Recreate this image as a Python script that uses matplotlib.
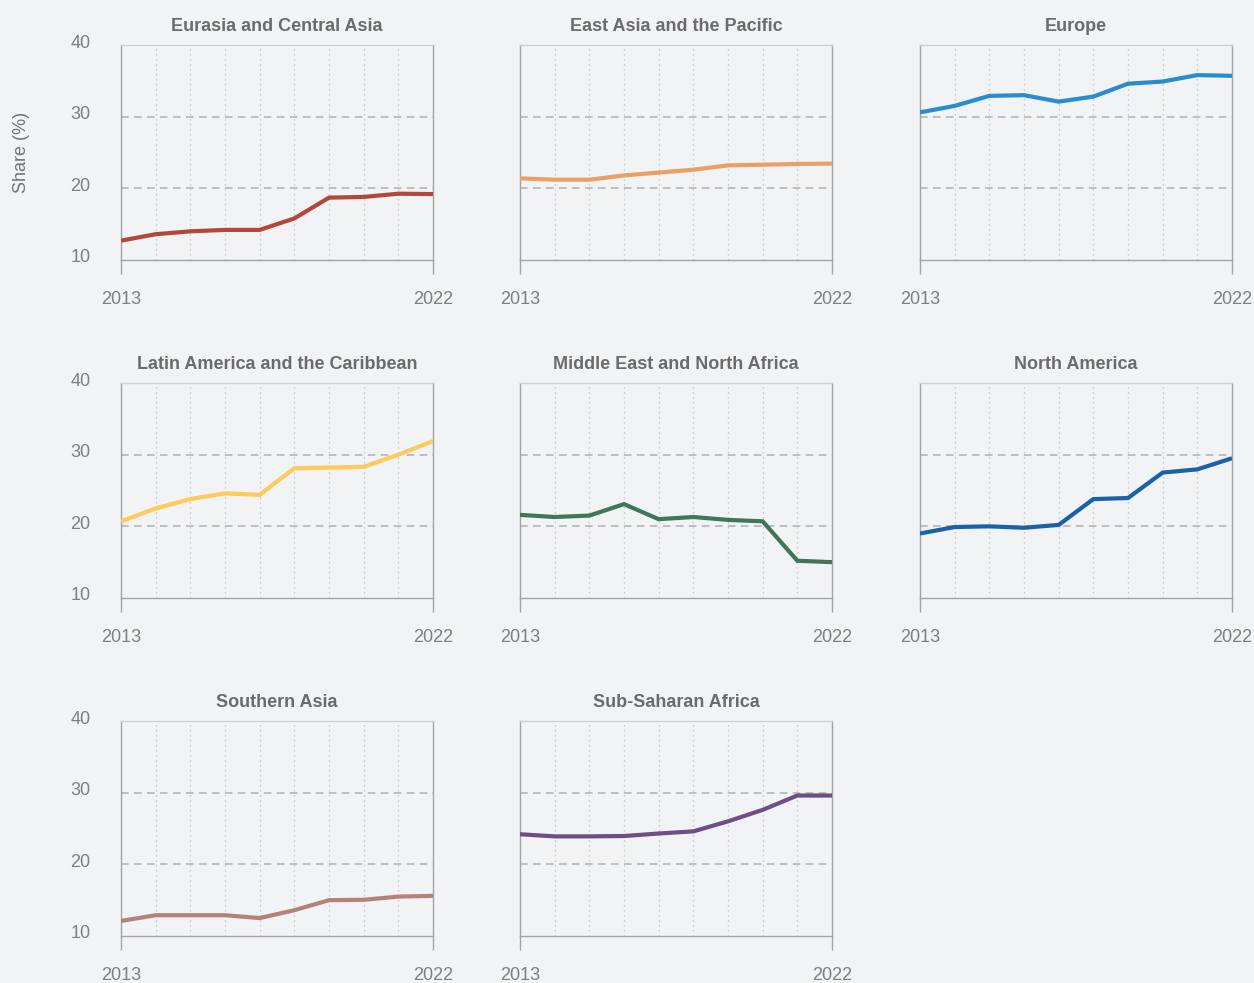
import matplotlib
matplotlib.use("Agg")
import matplotlib.pyplot as plt
import matplotlib.transforms as mtransforms

plt.rcParams['font.family'] = ['Liberation Sans', 'DejaVu Sans']

years = list(range(2013, 2023))

regions = [
    "Eurasia and Central Asia",
    "East Asia and the Pacific",
    "Europe",
    "Latin America and the Caribbean",
    "Middle East and North Africa",
    "North America",
    "Southern Asia",
    "Sub-Saharan Africa",
]

eurasia = [12.7, 13.6, 14.0, 14.2, 14.2, 15.8, 18.7, 18.8, 19.25, 19.2]
east_asia = [21.4, 21.2, 21.2, 21.8, 22.2, 22.6, 23.2, 23.3, 23.4, 23.45]
europe = [30.6, 31.5, 32.9, 33.0, 32.1, 32.8, 34.6, 34.9, 35.8, 35.7]
latin_america = [20.7, 22.5, 23.8, 24.6, 24.4, 28.1, 28.2, 28.3, 30.0, 31.9]
mena = [21.6, 21.3, 21.5, 23.1, 21.0, 21.3, 20.9, 20.7, 15.2, 15.0]
north_america = [19.0, 19.9, 20.0, 19.8, 20.2, 23.8, 23.95, 27.5, 27.95, 29.5]
southern_asia = [12.1, 12.9, 12.9, 12.9, 12.5, 13.6, 15.0, 15.05, 15.5, 15.6]
sub_saharan = [24.2, 23.9, 23.9, 23.95, 24.3, 24.6, 26.0, 27.6, 29.6, 29.6]

series = [eurasia, east_asia, europe, latin_america, mena, north_america,
          southern_asia, sub_saharan]
colors = ["#b4473a", "#e9a062", "#2a8bd0", "#fdca5c", "#3f7559", "#1b61a7",
          "#b5827b", "#6d4e86"]

yticks = [10, 20, 30, 40]
xticks = [2013, 2022]

BG = "#f2f3f5"
W, H = 1254, 983
fig = plt.figure(figsize=(W / 100, H / 100), dpi=100, facecolor=BG)

lefts = [121, 520, 920]
tops = [45, 383, 721]
aw, ah = 312, 215

for i, (name, vals, col) in enumerate(zip(regions, series, colors)):
    r, c = divmod(i, 3)
    ax = fig.add_axes([lefts[c] / W, 1 - (tops[r] + ah) / H, aw / W, ah / H])
    ax.set_facecolor(BG)
    ax.set_xlim(2013, 2022)
    ax.set_ylim(10, 40)
    # grid
    for yr in years[1:-1]:
        ax.axvline(yr, color="#bdbdbd", lw=0.9, ls=(0, (1, 3)), zorder=1)
    for yv in yticks[1:]:
        ax.axhline(yv, color="#b0b0b0", lw=1.1, ls=(0, (5, 3.5)), zorder=2)
    ax.plot(years, vals, color=col, lw=3.0, solid_capstyle="butt",
            solid_joinstyle="miter", zorder=3)
    for s in ax.spines.values():
        s.set_color("#a3a3a3")
        s.set_linewidth(1.0)
    ax.spines['top'].set_color("#d0d0d0")
    ax.set_xticks(xticks)
    ax.set_xticklabels([str(x) for x in xticks])
    ax.tick_params(axis='x', length=10, width=1.0, color="#a3a3a3",
                   labelcolor="#7f7f7f", labelsize=13, pad=12.5)
    ax.set_yticks(yticks)
    if c == 0:
        ax.set_yticklabels([str(y) for y in yticks])
        ax.tick_params(axis='y', length=0, labelcolor="#7f7f7f",
                       labelsize=13, pad=22)
        off = mtransforms.ScaledTranslation(0, 4 / 100, fig.dpi_scale_trans)
        for lab in ax.get_yticklabels():
            lab.set_transform(lab.get_transform() + off)
    else:
        ax.tick_params(axis='y', length=0, labelleft=False)
    ax.set_title(name, fontsize=13, fontweight='bold', color="#6b6b6b",
                 pad=10)
    if i == 0:
        ax.set_ylabel("Share (%)", fontsize=13, color="#727272", labelpad=29)

fig.savefig("out.png", dpi=100, facecolor=BG)
